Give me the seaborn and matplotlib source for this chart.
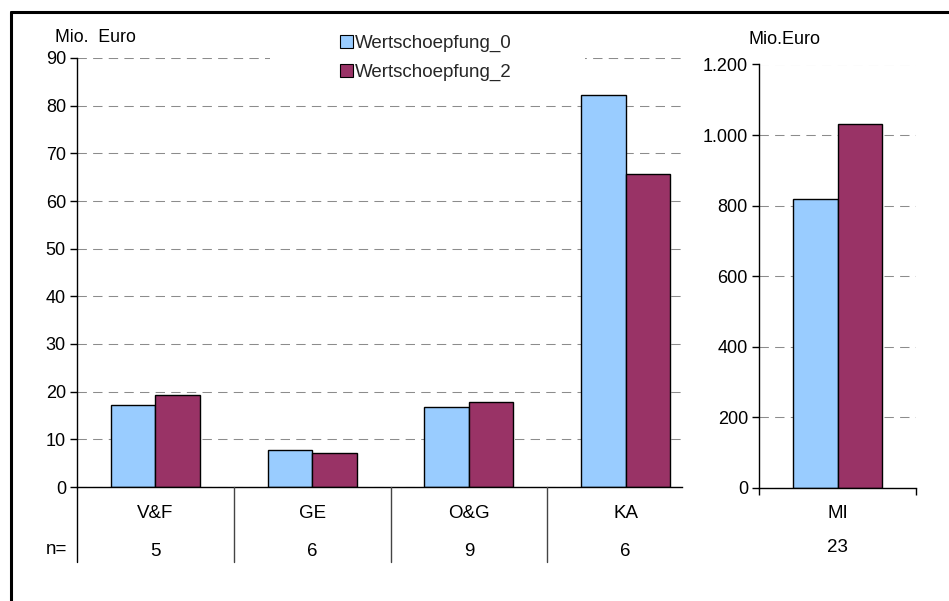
import matplotlib
matplotlib.use("Agg")
import matplotlib.pyplot as plt
import matplotlib.transforms as mtransforms
from matplotlib.patches import Rectangle
from matplotlib.lines import Line2D
from matplotlib.ticker import FuncFormatter
import pandas as pd
import seaborn as sns

# Regional sectors (values in million euro)
categories = ["V&F", "GE", "O&G", "KA"]
n_counts = [5, 6, 9, 6]
wert_0 = [17.1, 7.7, 16.8, 82.2]
wert_2 = [19.2, 7.1, 17.8, 65.7]

# Overall total shown on its own scale
mi_category = ["MI"]
mi_n = [23]
mi_wert_0 = [820]
mi_wert_2 = [1032]

series_names = ["Wertschoepfung_0", "Wertschoepfung_2"]
colors = ["#99CCFF", "#993366"]

left_df = pd.DataFrame({
    "Kategorie": categories * 2,
    "Wert": wert_0 + wert_2,
    "Reihe": [series_names[0]] * len(categories) + [series_names[1]] * len(categories),
})
right_df = pd.DataFrame({
    "Kategorie": mi_category * 2,
    "Wert": mi_wert_0 + mi_wert_2,
    "Reihe": [series_names[0], series_names[1]],
})

sns.set_theme(style="white")
plt.rcParams["font.family"] = ["Liberation Sans", "DejaVu Sans"]

W, H = 949, 601
fig = plt.figure(figsize=(W / 100, H / 100), dpi=100)
fig.patch.set_facecolor("white")


def fx(px):
    return px / W


def fy(py):
    return 1 - py / H


grid_kw = dict(color="#8c8c8c", linestyle=(0, (9, 6)), linewidth=0.75)
TICK_FS = 13
CAT_FS = 13.5

# ---- left panel: sectors ----
ax = fig.add_axes([fx(77), fy(487), fx(682) - fx(77), fy(58) - fy(487)])
sns.barplot(data=left_df, x="Kategorie", y="Wert", hue="Reihe", palette=colors,
            width=0.567, gap=0, saturation=1, edgecolor="black", linewidth=1,
            ax=ax, legend=False)
ax.set_xlim(-0.5, -0.5 + (682 - 77) / 156.75)
ax.set_ylim(0, 90)
ax.set_yticks(range(0, 91, 10))
ax.yaxis.grid(True, **grid_kw)
ax.xaxis.grid(False)
ax.set_axisbelow(True)
for side in ["top", "right"]:
    ax.spines[side].set_visible(False)
for side in ["left", "bottom"]:
    ax.spines[side].set_color("black")
    ax.spines[side].set_linewidth(1)
ax.tick_params(axis="y", left=True, direction="out", length=5, width=1,
               color="black", labelsize=TICK_FS, pad=3, labelcolor="black")
ax.tick_params(axis="x", bottom=False, labelbottom=False)
ax.set_xlabel("")
ax.set_ylabel("")

trans_l = mtransforms.blended_transform_factory(ax.transData, fig.transFigure)
for x in [-0.5, 0.5, 1.5, 2.5]:
    fig.add_artist(Line2D([x, x], [fy(487), fy(562)], transform=trans_l,
                          color="black" if x < 0 else "#444444", lw=1))
for i, (c, n) in enumerate(zip(categories, n_counts)):
    fig.text(i, fy(514), c, transform=trans_l, ha="center", va="center",
             fontsize=CAT_FS, color="black")
    fig.text(i, fy(551), str(n), transform=trans_l, ha="center", va="center",
             fontsize=CAT_FS, color="black")
fig.text(fx(67), fy(550), "n=", ha="right", va="center", fontsize=CAT_FS,
         color="black")
fig.text(fx(55), fy(37), "Mio.  Euro", ha="left", va="center", fontsize=12.8,
         color="black")

# ---- right panel: total ----
ax2 = fig.add_axes([fx(759), fy(488), fx(916) - fx(759), fy(64.5) - fy(488)])
sns.barplot(data=right_df, x="Kategorie", y="Wert", hue="Reihe", palette=colors,
            width=0.567, gap=0, saturation=1, edgecolor="black", linewidth=1,
            ax=ax2, legend=False)
ax2.set_xlim(-0.5, 0.5)
ax2.set_ylim(0, 1200)
ax2.set_yticks(range(0, 1201, 200))
ax2.yaxis.set_major_formatter(FuncFormatter(lambda v, p: f"{v:,.0f}".replace(",", ".")))
ax2.yaxis.grid(True, **grid_kw)
ax2.xaxis.grid(False)
ax2.set_axisbelow(True)
for side in ["top", "right"]:
    ax2.spines[side].set_visible(False)
for side in ["left", "bottom"]:
    ax2.spines[side].set_color("black")
    ax2.spines[side].set_linewidth(1)
ax2.set_xticks([-0.5, 0.5])
ax2.set_xticklabels(["", ""])
ax2.tick_params(axis="x", bottom=True, direction="out", length=5, width=1,
                color="black")
ax2.tick_params(axis="y", left=True, direction="out", length=5, width=1,
                color="black", labelsize=TICK_FS, pad=3, labelcolor="black")
ax2.set_xlabel("")
ax2.set_ylabel("")

trans_r = mtransforms.blended_transform_factory(ax2.transData, fig.transFigure)
fig.text(0, fy(514), mi_category[0], transform=trans_r, ha="center", va="center",
         fontsize=CAT_FS, color="black")
fig.text(0, fy(548), str(mi_n[0]), transform=trans_r, ha="center", va="center",
         fontsize=CAT_FS, color="black")
fig.text(fx(748), fy(40), "Mio.Euro", ha="left", va="center", fontsize=13,
         color="black")

# ---- legend on a white backing ----
fig.add_artist(Rectangle((fx(270), fy(88)), fx(585) - fx(270), fy(28) - fy(88),
                         transform=fig.transFigure, facecolor="white",
                         edgecolor="none", zorder=1))
handles = [Rectangle((0, 0), 1, 1, facecolor=c, edgecolor="black", lw=0.8)
           for c in colors]
leg = fig.legend(handles, series_names, loc="upper left",
                 bbox_to_anchor=(fx(340), fy(35)), frameon=False, fontsize=13.5,
                 handlelength=0.7, handleheight=0.7, handletextpad=0.12,
                 labelspacing=0.6, borderpad=0, borderaxespad=0)
leg.set_zorder(2)

# ---- outer frame (top and left edges) ----
fig.add_artist(Line2D([fx(11), 1], [fy(11.5), fy(11.5)], transform=fig.transFigure,
                      color="black", lw=2.2))
fig.add_artist(Line2D([fx(11), fx(11)], [fy(11.5), 0], transform=fig.transFigure,
                      color="black", lw=2.2))

fig.savefig("out.png", dpi=100)
